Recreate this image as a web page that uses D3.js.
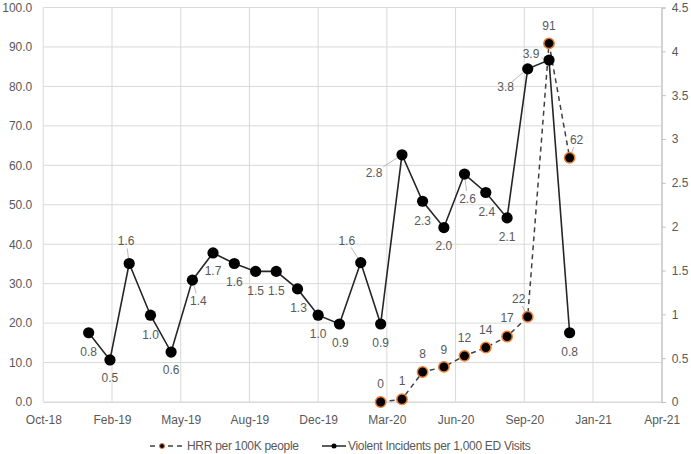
<!DOCTYPE html>
<html>
<head>
<meta charset="utf-8">
<script src="https://cdn.jsdelivr.net/npm/d3@7"></script>
<style>
  body { margin: 0; background: #fff; }
  svg text { font-family: "Liberation Sans", Arial, sans-serif; fill: #595959; }
</style>
</head>
<body>
<script>
// Data
var violentMonths = ["2019-01", "2019-02", "2019-03", "2019-04", "2019-05", "2019-06",
    "2019-07", "2019-08", "2019-09", "2019-10", "2019-11", "2019-12",
    "2020-01", "2020-02", "2020-03", "2020-04", "2020-05", "2020-06",
    "2020-07", "2020-08", "2020-09", "2020-10", "2020-11", "2020-12"];
var violentValues = [0.79, 0.48, 1.58, 0.99, 0.57, 1.39, 1.70, 1.58, 1.49, 1.49, 1.29, 0.99,
    0.89, 1.59, 0.89, 2.82, 2.29, 1.99, 2.60, 2.39, 2.10, 3.80, 3.90, 0.79];

var hrrMonths = ["2020-03", "2020-04", "2020-05", "2020-06", "2020-07",
    "2020-08", "2020-09", "2020-10", "2020-11", "2020-12"];
var hrrValues = [0, 0.7, 7.6, 8.9, 11.7, 13.8, 16.6, 21.6, 90.9, 61.9];

var leftTicks = [0, 10, 20, 30, 40, 50, 60, 70, 80, 90, 100];
var rightTicks = [0, 0.5, 1, 1.5, 2, 2.5, 3, 3.5, 4, 4.5];
var seriesNames = ["HRR per 100K people", "Violent Incidents per 1,000 ED Visits"];

// Label placement (offset of label centre from its point, and whether a leader line is drawn)
var violentLabelPos = [[0, 19], [0, 18], [-3, -23, 1], [0, 20], [0, 18], [6, 21, 1],
    [0, 18], [0, 18], [0, 19], [0, 19], [1, 19], [0, 19],
    [1, 19], [-14, -22, 1], [0, 19], [-28, 18, 1], [0, 20], [0, 18],
    [3, 25, 1], [1, 19], [0, 19], [-22, 18, 1], [-18, -6, 1], [0, 19]];
var hrrLabelPos = [[0, -18], [0, -18], [0, -18], [0, -17], [0, -18],
    [0, -18], [0, -19], [-9, -18, 1], [0, -18], [7, -18, 1]];

var parseMonth = d3.timeParse("%Y-%m");

// Dimensions
var svgWidth = 691;
var svgHeight = 454;
var margin = { top: 7.5, right: 29.3, bottom: 52, left: 43.3 };
var chartWidth = svgWidth - margin.left - margin.right;
var chartHeight = svgHeight - margin.top - margin.bottom;

var svg = d3.select("body")
    .append("svg")
    .attr("width", svgWidth)
    .attr("height", svgHeight);

var chartGroup = svg.append("g")
    .attr("transform", `translate(${margin.left}, ${margin.top})`);

// Scales (date axis with a 100-day major unit)
var xStart = new Date(2018, 9, 27);
var xEnd = d3.timeDay.offset(xStart, 900);
var xTicks = d3.range(0, 10).map(i => d3.timeDay.offset(xStart, i * 100));

var xScale = d3.scaleTime().domain([xStart, xEnd]).range([0, chartWidth]);
var yLeft = d3.scaleLinear().domain([0, 100]).range([chartHeight, 0]);
var yRight = d3.scaleLinear().domain([0, 4.5]).range([chartHeight, 0]);

// Gridlines
chartGroup.append("g")
    .selectAll("line")
    .data(leftTicks)
    .enter()
    .append("line")
    .attr("x1", 0)
    .attr("x2", chartWidth)
    .attr("y1", d => yLeft(d))
    .attr("y2", d => yLeft(d))
    .attr("stroke", "#d9d9d9")
    .attr("stroke-width", 1);

chartGroup.append("g")
    .selectAll("line")
    .data(xTicks)
    .enter()
    .append("line")
    .attr("x1", d => xScale(d))
    .attr("x2", d => xScale(d))
    .attr("y1", 0)
    .attr("y2", chartHeight)
    .attr("stroke", "#d9d9d9")
    .attr("stroke-width", 1);

// Axes
var bottomAxis = d3.axisBottom(xScale)
    .tickValues(xTicks)
    .tickFormat(d3.timeFormat("%b-%y"))
    .tickSize(0)
    .tickPadding(13);
var leftAxis = d3.axisLeft(yLeft)
    .tickValues(leftTicks)
    .tickFormat(d3.format(".1f"))
    .tickSize(0)
    .tickPadding(11);
var rightAxis = d3.axisRight(yRight)
    .tickValues(rightTicks)
    .tickFormat(d => d)
    .tickSize(4)
    .tickPadding(6);

var gx = chartGroup.append("g")
    .attr("transform", `translate(0, ${chartHeight})`)
    .call(bottomAxis);
gx.select(".domain").attr("stroke", "#d9d9d9");

var gl = chartGroup.append("g").call(leftAxis);
gl.select(".domain").remove();

var gr = chartGroup.append("g")
    .attr("transform", `translate(${chartWidth}, 0)`)
    .call(rightAxis);
gr.select(".domain").attr("stroke", "#bfbfbf");
gr.selectAll(".tick line").attr("stroke", "#bfbfbf");

svg.selectAll(".tick text")
    .attr("font-size", 12)
    .attr("fill", "#595959");

// Series data
var violentData = violentMonths.map((m, i) => ({ date: parseMonth(m), value: violentValues[i], pos: violentLabelPos[i] }));
var hrrData = hrrMonths.map((m, i) => ({ date: parseMonth(m), value: hrrValues[i], pos: hrrLabelPos[i] }));

// Lines
var violentLine = d3.line().x(d => xScale(d.date)).y(d => yRight(d.value));
var hrrLine = d3.line().x(d => xScale(d.date)).y(d => yLeft(d.value));

chartGroup.append("path")
    .datum(hrrData)
    .attr("d", hrrLine)
    .attr("fill", "none")
    .attr("stroke", "#404040")
    .attr("stroke-width", 1.5)
    .attr("stroke-dasharray", "5,4");

chartGroup.append("path")
    .datum(violentData)
    .attr("d", violentLine)
    .attr("fill", "none")
    .attr("stroke", "#262626")
    .attr("stroke-width", 1.6);

// Markers
chartGroup.selectAll(".hrr-dot")
    .data(hrrData)
    .enter()
    .append("circle")
    .attr("class", "hrr-dot")
    .attr("cx", d => xScale(d.date))
    .attr("cy", d => yLeft(d.value))
    .attr("r", 5.2)
    .attr("fill", "#000")
    .attr("stroke", "#ed7d31")
    .attr("stroke-width", 1.5);

chartGroup.selectAll(".vi-dot")
    .data(violentData)
    .enter()
    .append("circle")
    .attr("class", "vi-dot")
    .attr("cx", d => xScale(d.date))
    .attr("cy", d => yRight(d.value))
    .attr("r", 5.6)
    .attr("fill", "#000");

// Data labels with leader lines
function addLabels(data, yScale, fmt) {
    data.forEach(d => {
        var px = xScale(d.date);
        var py = yScale(d.value);
        var lx = px + d.pos[0];
        var ly = py + d.pos[1];
        if (d.pos[2]) {
            var dx = px - lx, dy = py - ly;
            var len = Math.sqrt(dx * dx + dy * dy);
            var ux = dx / len, uy = dy / len;
            var startGap = Math.abs(ux) > 0.8 ? 11 : 8;
            chartGroup.append("line")
                .attr("x1", lx + ux * startGap)
                .attr("y1", ly + uy * startGap)
                .attr("x2", px - ux * 5.5)
                .attr("y2", py - uy * 5.5)
                .attr("stroke", "#a6a6a6")
                .attr("stroke-width", 0.8);
        }
        chartGroup.append("text")
            .attr("x", lx)
            .attr("y", ly)
            .attr("dy", "0.35em")
            .attr("text-anchor", "middle")
            .attr("font-size", 12)
            .text(fmt(d.value));
    });
}
addLabels(violentData, yRight, d3.format(".1f"));
addLabels(hrrData, yLeft, d3.format(".0f"));

// Legend
var legendY = 446;
var legend = svg.append("g");

legend.append("line")
    .attr("x1", 150).attr("x2", 184)
    .attr("y1", legendY).attr("y2", legendY)
    .attr("stroke", "#404040")
    .attr("stroke-width", 1.5)
    .attr("stroke-dasharray", "5,4");
legend.append("circle")
    .attr("cx", 162).attr("cy", legendY).attr("r", 2.5)
    .attr("fill", "#000")
    .attr("stroke", "#ed7d31")
    .attr("stroke-width", 1);
legend.append("text")
    .attr("x", 187).attr("y", legendY)
    .attr("dy", "0.35em")
    .attr("font-size", 12)
    .attr("letter-spacing", "-0.3")
    .text(seriesNames[0]);

legend.append("line")
    .attr("x1", 322).attr("x2", 346)
    .attr("y1", legendY).attr("y2", legendY)
    .attr("stroke", "#262626")
    .attr("stroke-width", 1.5);
legend.append("circle")
    .attr("cx", 334).attr("cy", legendY).attr("r", 2.5)
    .attr("fill", "#000");
legend.append("text")
    .attr("x", 348).attr("y", legendY)
    .attr("dy", "0.35em")
    .attr("font-size", 12)
    .attr("letter-spacing", "-0.3")
    .text(seriesNames[1]);
</script>
</body>
</html>
